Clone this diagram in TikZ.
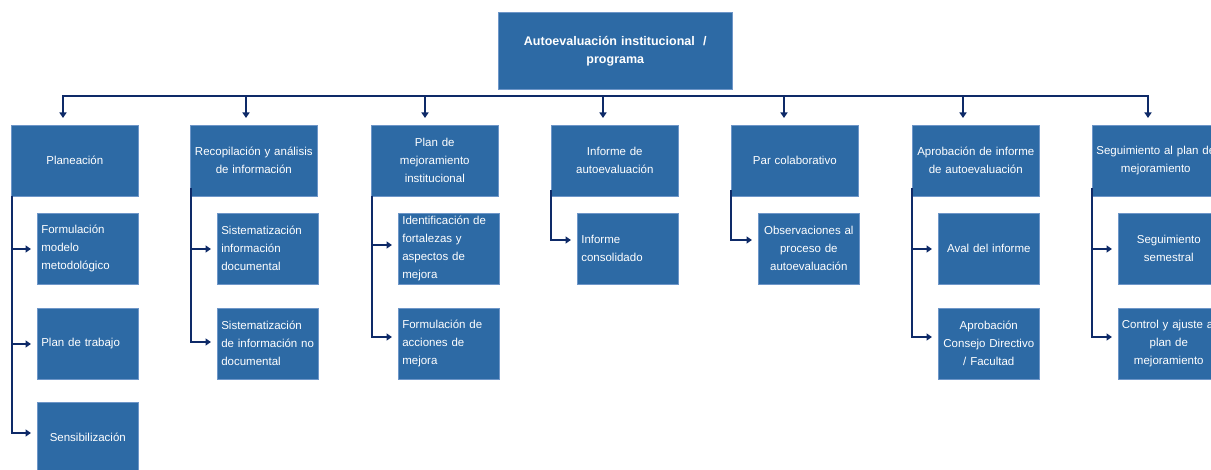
\documentclass[tikz,border=0pt]{standalone}
\usepackage{fontspec}
\setmainfont{Liberation Sans}
\usetikzlibrary{arrows.meta}
\definecolor{boxblue}{RGB}{45,106,165}
\definecolor{boxedge}{RGB}{110,150,200}
\definecolor{navy}{RGB}{14,42,104}
\tikzset{
  box/.style={rectangle, fill=boxblue, draw=boxedge, line width=0.6pt, text=white, inner sep=0pt, anchor=north west, font=\fontsize{11.5}{18}\selectfont},
  parentbox/.style={box, minimum width=127pt, minimum height=71pt, text width=127pt, align=center},
  childl/.style={box, minimum width=101pt, minimum height=71pt, text width=93pt, align=left},
  childc/.style={box, minimum width=101pt, minimum height=71pt, text width=101pt, align=center},
  conn/.style={draw=navy, line width=2pt},
  arr/.style={conn, -{Triangle[length=5.5pt,width=7pt]}},
}
\begin{document}
\begin{tikzpicture}[x=1pt,y=-1pt]
\useasboundingbox (0,0) rectangle (1211,470);
\clip (0,0) rectangle (1211,470);
% top
\node[box, minimum width=234pt, minimum height=77pt, text width=230pt, align=center, font=\fontsize{12.5}{18}\selectfont\bfseries] (top) at (498,12) {Autoevaluación institucional \ /\\programa};
% parents
\node[parentbox] (p1) at (11,125) {Planeación};
\node[parentbox] (p2) at (190,125) {\mbox{Recopilación y análisis}\\de información};
\node[parentbox] (p3) at (371,125) {Plan de\\mejoramiento\\institucional};
\node[parentbox] (p4) at (551,125) {Informe de\\autoevaluación};
\node[parentbox] (p5) at (731,125) {Par colaborativo};
\node[parentbox] (p6) at (912,125) {\mbox{Aprobación de informe}\\de autoevaluación};
\node[parentbox] (p7) at (1092,125) {\mbox{Seguimiento al plan de}\\mejoramiento};
% children
\node[childl] (c11) at (37,213) {Formulación\\modelo\\metodológico};
\node[childl] (c12) at (37,308) {Plan de trabajo};
\node[childc] (c13) at (37,402) {Sensibilización};
\node[childl] (c21) at (217,213) {Sistematización\\información\\documental};
\node[childl] (c22) at (217,308) {Sistematización\\\mbox{de información no}\\documental};
\node[childl] (c31) at (398,213) {\mbox{Identificación de}\\fortalezas y\\aspectos de\\mejora};
\node[childl] (c32) at (398,308) {Formulación de\\acciones de\\mejora};
\node[childl] (c41) at (577,213) {Informe\\consolidado};
\node[childc] (c51) at (758,213) {\mbox{Observaciones al}\\proceso de\\autoevaluación};
\node[childc] (c61) at (938,213) {Aval del informe};
\node[childc] (c62) at (938,308) {Aprobación\\\mbox{Consejo Directivo}\\/ Facultad};
\node[childc] (c71) at (1118,213) {Seguimiento\\semestral};
\node[childc] (c72) at (1118,308) {\mbox{Control y ajuste al}\\plan de\\mejoramiento};
% bus
\coordinate (b1) at (63,96);
\coordinate (b2) at (246,96);
\coordinate (b3) at (425,96);
\coordinate (b4) at (603,96);
\coordinate (b5) at (784,96);
\coordinate (b6) at (963,96);
\coordinate (b7) at (1148,96);
\draw[conn] (b1 |- p1.north) ++(0,-8) |- (b7) -- ++(0,21);
\foreach \i in {1,...,7}{
  \draw[arr, shorten >=7pt] (b\i) -- (b\i |- p\i.north);
}
% spines
\coordinate (s1) at (12,196);
\coordinate (s2) at (191,188);
\coordinate (s3) at (372,196);
\coordinate (s4) at (551,190);
\coordinate (s5) at (731,190);
\coordinate (s6) at (912,188);
\coordinate (s7) at (1092,188);
\coordinate (a11) at (12,249);
\coordinate (a12) at (12,344);
\coordinate (a13) at (12,433);
\coordinate (a21) at (191,249);
\coordinate (a22) at (191,342);
\coordinate (a31) at (372,245);
\coordinate (a32) at (372,337);
\coordinate (a41) at (551,240);
\coordinate (a51) at (731,240);
\coordinate (a61) at (912,249);
\coordinate (a62) at (912,337);
\coordinate (a71) at (1092,249);
\coordinate (a72) at (1092,337);
\draw[conn] (s1) -- (a13);
\draw[conn] (s2) -- (a22);
\draw[conn] (s3) -- (a32);
\draw[conn] (s4) -- (a41);
\draw[conn] (s5) -- (a51);
\draw[conn] (s6) -- (a62);
\draw[conn] (s7) -- (a72);
\foreach \c in {11,12,13,21,22,31,32,41,51,61,62,71,72}{
  \draw[arr, shorten >=6pt] ([xshift=-1pt]a\c) -- (a\c -| c\c.west);
}
\end{tikzpicture}
\end{document}
